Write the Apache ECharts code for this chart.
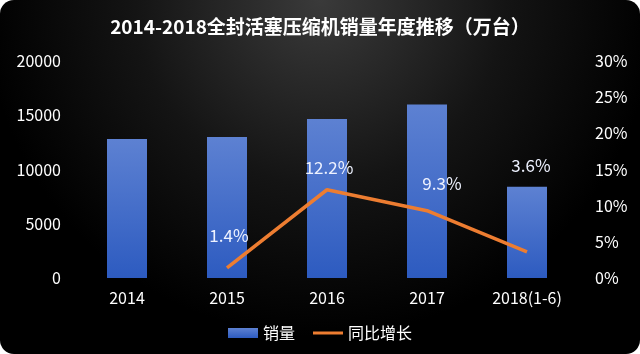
<!DOCTYPE html>
<html>
<head>
<meta charset="utf-8">
<script src="https://cdn.jsdelivr.net/npm/echarts@6/dist/echarts.min.js"></script>
<style>
html, body { margin:0; padding:0; background:#ffffff; }
#main { width:640px; height:354px; border-radius:14px; overflow:hidden; }
</style>
</head>
<body>
<div id="main"></div>
<script>
var years = ['2014', '2015', '2016', '2017', '2018(1-6)'];
var sales = [12800, 13000, 14650, 16000, 8400];
var growth = [null, 1.4, 12.2, 9.3, 3.6];

var FONT = '"Noto Sans CJK SC", "Noto Sans", sans-serif';

function initChart()
{
	// label offsets picked per point to sit where the original put them
	var labelOffsets = [[0, 0], [2, -6], [2, 4], [15, -1], [4, -60]];
	var lineData = [];
	for (var i = 0; i < growth.length; i++)
	{
		lineData.push({
			value: growth[i],
			label: { offset: labelOffsets[i] }
		});
	}

	var option = {
		backgroundColor: {
			type: 'radial', x: 0.5, y: 0.0, r: 0.95,
			colorStops: [
				{ offset: 0, color: '#3a3a3a' },
				{ offset: 0.55, color: '#141414' },
				{ offset: 1, color: '#000000' }
			]
		},
		textStyle: { fontFamily: FONT },
		title: {
			text: '2014-2018全封活塞压缩机销量年度推移（万台）',
			left: 'center',
			top: 12,
			textStyle: { color: '#ffffff', fontSize: 19, fontWeight: 'bold', fontFamily: FONT }
		},
		legend: {
			bottom: 8,
			left: 'center',
			itemWidth: 30,
			itemHeight: 10,
			itemGap: 18,
			textStyle: { color: '#ffffff', fontSize: 16, fontFamily: FONT },
			data: [
				{ name: '销量', icon: 'rect' },
				{
					name: '同比增长',
					icon: 'path://M0,0 M0,3.5 L30,3.5 L30,6.5 L0,6.5 Z M30,10',
					itemStyle: { color: '#ed7d31', opacity: 1 }
				}
			]
		},
		grid: { left: 77, right: 63, top: 61, bottom: 76 },
		xAxis: {
			type: 'category',
			data: years,
			axisLine: { show: false },
			axisTick: { show: false },
			axisLabel: { color: '#ffffff', fontSize: 16, margin: 12, fontFamily: FONT }
		},
		yAxis: [
			{
				type: 'value', min: 0, max: 20000, interval: 5000,
				splitLine: { show: false },
				axisLine: { show: false },
				axisTick: { show: false },
				axisLabel: {
					color: '#ffffff', fontSize: 16, margin: 16, fontFamily: FONT,
					formatter: function (v) { return String(v); }
				}
			},
			{
				type: 'value', min: 0, max: 30, interval: 5,
				splitLine: { show: false },
				axisLine: { show: false },
				axisTick: { show: false },
				axisLabel: { color: '#ffffff', fontSize: 16, margin: 18, formatter: '{value}%', fontFamily: FONT }
			}
		],
		series: [
			{
				name: '销量',
				type: 'bar',
				barWidth: '40%',
				data: sales,
				itemStyle: {
					color: {
						type: 'linear', x: 0, y: 0, x2: 0, y2: 1,
						colorStops: [
							{ offset: 0, color: '#5d81d2' },
							{ offset: 1, color: '#2d5bc0' }
						]
					}
				}
			},
			{
				name: '同比增长',
				type: 'line',
				yAxisIndex: 1,
				data: lineData,
				symbol: 'circle',
				symbolSize: 0.1,
				showSymbol: true,
				lineStyle: { color: '#ed7d31', width: 3.5 },
				itemStyle: { color: '#ed7d31' },
				label: {
					show: true,
					position: 'top',
					distance: 18,
					color: '#eef2ff',
					fontSize: 17,
					fontFamily: FONT,
					formatter: function (p) { return p.value == null ? '' : p.value.toFixed(1) + '%'; }
				}
			}
		]
	};

	var myChart = echarts.init(document.getElementById('main'));
	myChart.setOption(option);
}

initChart();
</script>
</body>
</html>
